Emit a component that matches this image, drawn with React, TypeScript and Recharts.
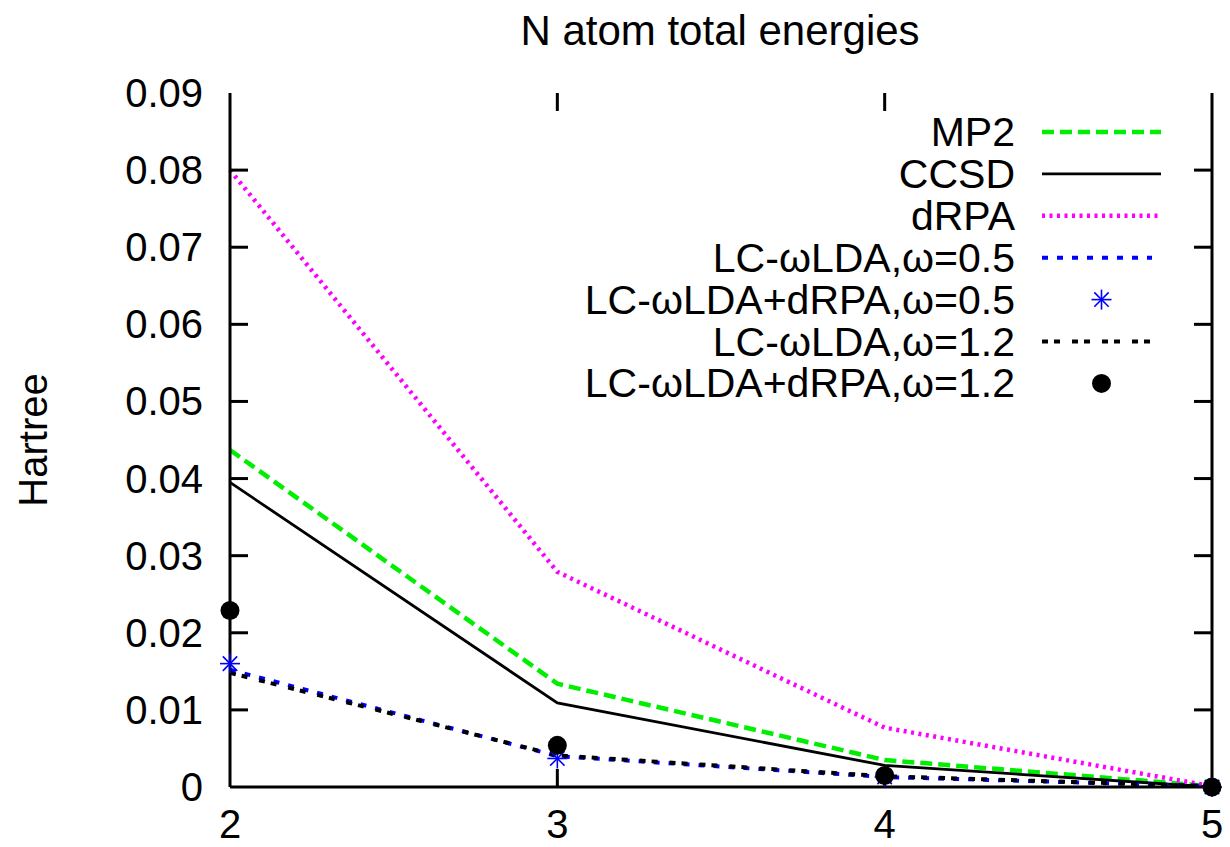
import React from "react";
import { ComposedChart, Line, XAxis, YAxis, ReferenceLine } from "recharts";

const xValues = [2, 3, 4, 5];
const mp2 = [0.0437, 0.0134, 0.0035, 0.0001];
const ccsd = [0.0395, 0.0109, 0.0028, 0.0];
const drpa = [0.08, 0.0279, 0.0077, 0.0001];
const lc05 = [0.0152, 0.004, 0.0013, 0.0001];
const lc05rpa = [0.016, 0.0037, 0.0013, 0.0];
const lc12 = [0.0148, 0.0041, 0.0014, 0.0001];
const lc12rpa = [0.0229, 0.0054, 0.0015, 0.0];

const xTicks = [2, 3, 4, 5];
const yTicks = [0, 0.01, 0.02, 0.03, 0.04, 0.05, 0.06, 0.07, 0.08, 0.09];
const yTickLabels = ["0", "0.01", "0.02", "0.03", "0.04", "0.05", "0.06", "0.07", "0.08", "0.09"];

const title = "N atom total energies";
const yLabel = "Hartree";

const legendLabels = [
  "MP2",
  "CCSD",
  "dRPA",
  "LC-\u03c9LDA,\u03c9=0.5",
  "LC-\u03c9LDA+dRPA,\u03c9=0.5",
  "LC-\u03c9LDA,\u03c9=1.2",
  "LC-\u03c9LDA+dRPA,\u03c9=1.2",
];

const data = xValues.map((x, i) => ({
  x,
  mp2: mp2[i],
  ccsd: ccsd[i],
  drpa: drpa[i],
  lc05: lc05[i],
  lc05rpa: lc05rpa[i],
  lc12: lc12[i],
  lc12rpa: lc12rpa[i],
}));

const FONT = "'Liberation Sans', Arial, Helvetica, sans-serif";
const X_MIN = 2;
const X_MAX = 5;
const Y_MIN = 0;
const Y_MAX = 0.09;
// inward tick lengths in data units (~18px)
const TICK_DX = 0.055;
const TICK_DY = 0.00233;
const TICK_PX = 18;

type LineStyle = { stroke: string; width: number; dash?: string; end: number };
const styles: LineStyle[] = [
  { stroke: "#00ee00", width: 4.5, dash: "12 6", end: 1161 },
  { stroke: "#000000", width: 2.8, end: 1161 },
  { stroke: "#ff00ff", width: 4.5, dash: "3 4.5", end: 1158 },
  { stroke: "#0000ff", width: 4, dash: "6 9", end: 1152 },
  { stroke: "#0000ff", width: 0, end: 1161 },
  { stroke: "#000000", width: 4, dash: "6 6 6 12", end: 1150 },
  { stroke: "#000000", width: 0, end: 1161 },
];

const Star = (props: any) => {
  const { cx, cy } = props;
  if (cx == null || cy == null) return null;
  const r = 10;
  const d = r * 0.72;
  return (
    <g stroke="#0000ff" strokeWidth={1.6}>
      <line x1={cx - r} y1={cy} x2={cx + r} y2={cy} />
      <line x1={cx} y1={cy - r} x2={cx} y2={cy + r} />
      <line x1={cx - d} y1={cy - d} x2={cx + d} y2={cy + d} />
      <line x1={cx - d} y1={cy + d} x2={cx + d} y2={cy - d} />
    </g>
  );
};

const Dot = (props: any) => {
  const { cx, cy } = props;
  if (cx == null || cy == null) return null;
  return <circle cx={cx} cy={cy} r={9.5} fill="#000" />;
};

// inward tick mark drawn at a point placed by the library's scales
const HTickMark = (props: any) => {
  const { cx, cy } = props;
  if (cx == null || cy == null || Number.isNaN(cx) || Number.isNaN(cy)) return null;
  return <line x1={cx} y1={cy} x2={cx + TICK_PX} y2={cy} stroke="#000" strokeWidth={3} />;
};

const VTickMark = (props: any) => {
  const { cx, cy } = props;
  if (cx == null || cy == null || Number.isNaN(cx) || Number.isNaN(cy)) return null;
  return <line x1={cx} y1={cy} x2={cx} y2={cy - TICK_PX} stroke="#000" strokeWidth={3} />;
};

const LeftTick = (props: any) => {
  const { x, y, payload, index } = props;
  const ax = x + 10;
  return (
    <text x={ax - 27} y={y + 14} textAnchor="end" fontSize={40} fontFamily={FONT} fill="#000">
      {yTickLabels[index] ?? String(payload.value)}
    </text>
  );
};

const BottomTick = (props: any) => {
  const { x, y, payload } = props;
  const ay = y - 10;
  return (
    <text x={x} y={ay + 51} textAnchor="middle" fontSize={40} fontFamily={FONT} fill="#000">
      {String(payload.value)}
    </text>
  );
};

const tickStroke = { stroke: "#000", strokeWidth: 3 };

export default function App() {
  const legendX0 = 1015;
  const sampleX1 = 1042;
  const rowY0 = 132;
  const rowStep = 41.9;
  const innerY = yTicks.filter((v) => v > Y_MIN && v < Y_MAX);
  const innerX = xTicks.filter((v) => v > X_MIN && v < X_MAX);
  return (
    <div style={{ position: "absolute", left: 0, top: 0, width: 1230, height: 847, background: "#fff" }}>
      <ComposedChart
        width={1230}
        height={847}
        data={data}
        margin={{ top: 93, right: 0, left: 0, bottom: 0 }}
      >
        <XAxis
          xAxisId="bottom"
          dataKey="x"
          type="number"
          domain={[X_MIN, X_MAX]}
          ticks={xTicks}
          height={60}
          orientation="bottom"
          axisLine={{ stroke: "#000", strokeWidth: 3 }}
          tickLine={false}
          tickSize={0}
          tickMargin={10}
          tick={<BottomTick />}
          interval={0}
        />
        <XAxis
          xAxisId="top"
          dataKey="x"
          type="number"
          domain={[X_MIN, X_MAX]}
          ticks={xTicks}
          height={0}
          orientation="top"
          axisLine={{ stroke: "#000", strokeWidth: 3 }}
          tickLine={false}
          tick={false}
        />
        <YAxis
          yAxisId="left"
          type="number"
          domain={[Y_MIN, Y_MAX]}
          ticks={yTicks}
          width={230}
          orientation="left"
          axisLine={{ stroke: "#000", strokeWidth: 3 }}
          tickLine={false}
          tickSize={0}
          tickMargin={10}
          tick={<LeftTick />}
          interval={0}
        />
        <YAxis
          yAxisId="right"
          type="number"
          domain={[Y_MIN, Y_MAX]}
          ticks={yTicks}
          width={18}
          orientation="right"
          axisLine={{ stroke: "#000", strokeWidth: 3 }}
          tickLine={false}
          tick={false}
        />
        {innerY.map((v) => (
          <ReferenceLine
            key={"r" + v}
            xAxisId="bottom"
            yAxisId="left"
            ifOverflow="visible"
            segment={[{ x: X_MAX - TICK_DX, y: v }, { x: X_MAX, y: v }]}
            {...tickStroke}
          />
        ))}
        {innerX.map((v) => (
          <ReferenceLine
            key={"t" + v}
            xAxisId="bottom"
            yAxisId="left"
            ifOverflow="visible"
            segment={[{ x: v, y: Y_MAX - TICK_DY }, { x: v, y: Y_MAX }]}
            {...tickStroke}
          />
        ))}
        {innerY.map((v) => (
          <Line
            key={"lt" + v}
            xAxisId="bottom"
            yAxisId="left"
            dataKey={(row: any) => (row.x === X_MIN ? v : null)}
            type="linear"
            stroke="none"
            dot={<HTickMark />}
            activeDot={false}
            legendType="none"
            isAnimationActive={false}
          />
        ))}
        {innerX.map((v) => (
          <Line
            key={"bt" + v}
            xAxisId="bottom"
            yAxisId="left"
            dataKey={(row: any) => (row.x === v ? Y_MIN : null)}
            type="linear"
            stroke="none"
            dot={<VTickMark />}
            activeDot={false}
            legendType="none"
            isAnimationActive={false}
          />
        ))}
        <Line xAxisId="bottom" yAxisId="left" dataKey="mp2" type="linear" stroke={styles[0].stroke} strokeWidth={styles[0].width} strokeDasharray={styles[0].dash} dot={false} activeDot={false} isAnimationActive={false} />
        <Line xAxisId="bottom" yAxisId="left" dataKey="ccsd" type="linear" stroke={styles[1].stroke} strokeWidth={styles[1].width} dot={false} activeDot={false} isAnimationActive={false} />
        <Line xAxisId="bottom" yAxisId="left" dataKey="drpa" type="linear" stroke={styles[2].stroke} strokeWidth={styles[2].width} strokeDasharray={styles[2].dash} dot={false} activeDot={false} isAnimationActive={false} />
        <Line xAxisId="bottom" yAxisId="left" dataKey="lc05" type="linear" stroke={styles[3].stroke} strokeWidth={styles[3].width} strokeDasharray={styles[3].dash} dot={false} activeDot={false} isAnimationActive={false} />
        <Line xAxisId="bottom" yAxisId="left" dataKey="lc05rpa" type="linear" stroke="none" dot={<Star />} activeDot={false} isAnimationActive={false} />
        <Line xAxisId="bottom" yAxisId="left" dataKey="lc12" type="linear" stroke={styles[5].stroke} strokeWidth={styles[5].width} strokeDasharray={styles[5].dash} dot={false} activeDot={false} isAnimationActive={false} />
        <Line xAxisId="bottom" yAxisId="left" dataKey="lc12rpa" type="linear" stroke="none" dot={<Dot />} activeDot={false} isAnimationActive={false} />
      </ComposedChart>
      <svg
        width={1230}
        height={847}
        style={{ position: "absolute", left: 0, top: 0, pointerEvents: "none" }}
      >
        <text x={720} y={45} textAnchor="middle" fontSize={42} fontFamily={FONT} fill="#000">
          {title}
        </text>
        <text
          x={47}
          y={440}
          textAnchor="middle"
          fontSize={40}
          fontFamily={FONT}
          fill="#000"
          transform="rotate(-90 47 440)"
        >
          {yLabel}
        </text>
        {legendLabels.map((label, i) => {
          const cy = rowY0 + i * rowStep;
          const s = styles[i];
          const mid = 1101.5;
          return (
            <g key={label}>
              <text x={legendX0} y={cy + 14} textAnchor="end" fontSize={41} fontFamily={FONT} fill="#000">
                {label}
              </text>
              {i === 4 ? (
                <Star cx={mid} cy={cy} />
              ) : i === 6 ? (
                <Dot cx={mid} cy={cy} />
              ) : (
                <line x1={sampleX1} y1={cy} x2={s.end} y2={cy} stroke={s.stroke} strokeWidth={s.width} strokeDasharray={s.dash} />
              )}
            </g>
          );
        })}
      </svg>
    </div>
  );
}
